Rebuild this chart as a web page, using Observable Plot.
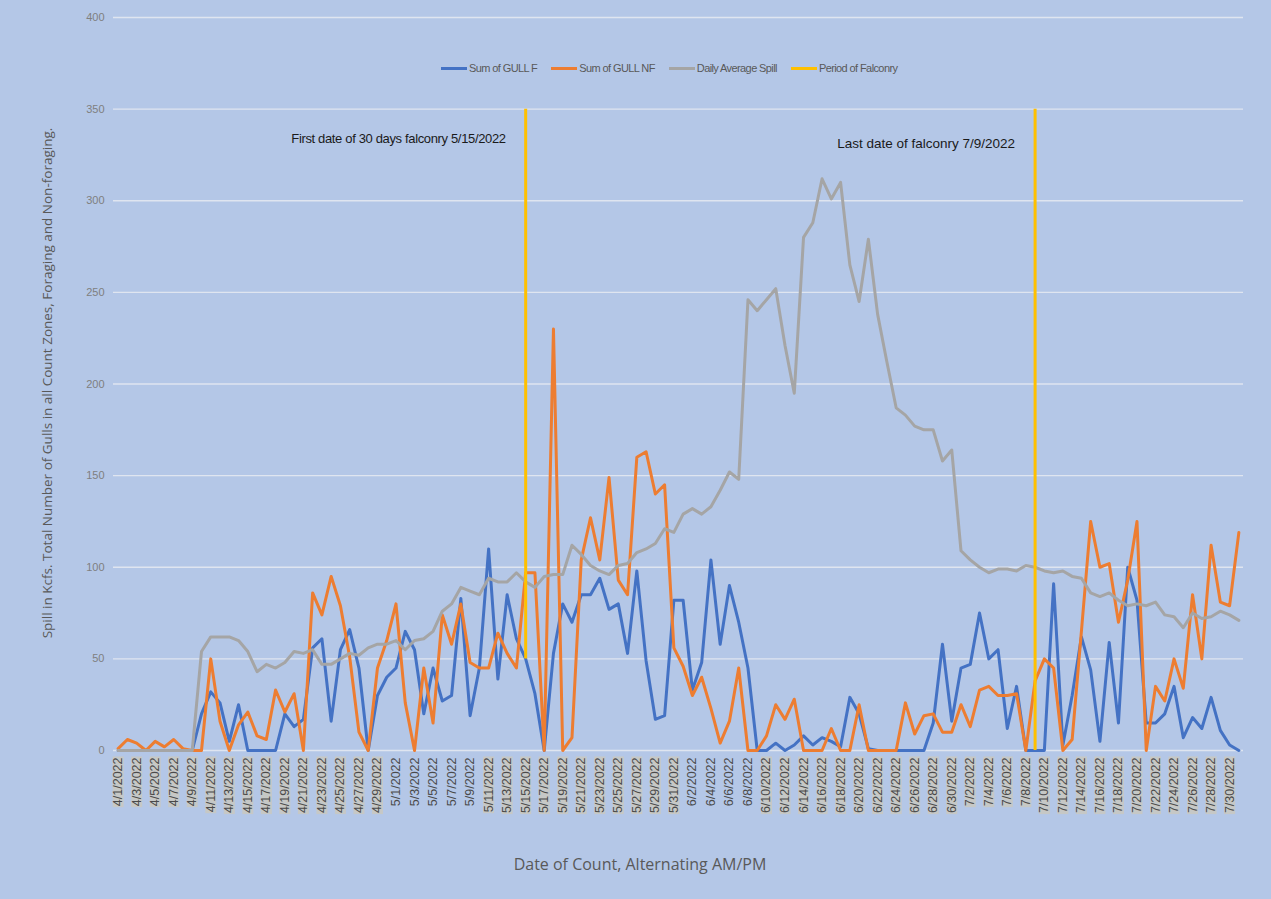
<!DOCTYPE html>
<html>
<head>
<meta charset="utf-8">
<script src="https://cdn.jsdelivr.net/npm/d3@7"></script>
<script src="https://cdn.jsdelivr.net/npm/@observablehq/plot@0.6"></script>
<style>
  html, body { margin: 0; padding: 0; background: #b4c7e7; }
  #wrap { position: relative; width: 1271px; height: 899px; background: #b4c7e7; overflow: hidden; }
  #legend { position: absolute; top: 62px; left: 441px; display: flex; gap: 14px; align-items: center;
            font-family: "Liberation Sans", Arial, sans-serif; font-size: 11px; letter-spacing: -0.6px; color: #595959; }
  #legend .item { display: flex; align-items: center; gap: 2px; }
  #legend .sw { width: 26px; height: 3px; }
  #ytitle { position: absolute; left: 47px; top: 383px; transform: translate(-50%, -50%) rotate(-90deg); white-space: nowrap;
            font-family: "Open Sans", sans-serif; font-size: 13.5px; color: #595959; }
  #xtitle { position: absolute; left: 640px; top: 864px; transform: translate(-50%, -50%); white-space: nowrap;
            font-family: "Open Sans", sans-serif; font-size: 16px; color: #595959; }
</style>
</head>
<body>
<div id="wrap">
  <div id="chart"></div>
  <div id="legend"></div>
  <div id="ytitle"></div>
  <div id="xtitle"></div>
</div>
<script>
// ---- categories (one count per date, alternating AM/PM) ----
const dates = [
  "4/1/2022","4/2/2022","4/3/2022","4/4/2022","4/5/2022","4/6/2022","4/7/2022","4/8/2022","4/9/2022","4/10/2022",
  "4/11/2022","4/12/2022","4/13/2022","4/14/2022","4/15/2022","4/16/2022","4/17/2022","4/18/2022","4/19/2022","4/20/2022",
  "4/21/2022","4/22/2022","4/23/2022","4/24/2022","4/25/2022","4/26/2022","4/27/2022","4/28/2022","4/29/2022","4/30/2022",
  "5/1/2022","5/2/2022","5/3/2022","5/4/2022","5/5/2022","5/6/2022","5/7/2022","5/8/2022","5/9/2022","5/10/2022",
  "5/11/2022","5/12/2022","5/13/2022","5/14/2022","5/15/2022","5/16/2022","5/17/2022","5/18/2022","5/19/2022","5/20/2022",
  "5/21/2022","5/22/2022","5/23/2022","5/24/2022","5/25/2022","5/26/2022","5/27/2022","5/28/2022","5/29/2022","5/30/2022",
  "5/31/2022","6/1/2022","6/2/2022","6/3/2022","6/4/2022","6/5/2022","6/6/2022","6/7/2022","6/8/2022","6/9/2022",
  "6/10/2022","6/11/2022","6/12/2022","6/13/2022","6/14/2022","6/15/2022","6/16/2022","6/17/2022","6/18/2022","6/19/2022",
  "6/20/2022","6/21/2022","6/22/2022","6/23/2022","6/24/2022","6/25/2022","6/26/2022","6/27/2022","6/28/2022","6/29/2022",
  "6/30/2022","7/1/2022","7/2/2022","7/3/2022","7/4/2022","7/5/2022","7/6/2022","7/7/2022","7/8/2022","7/9/2022",
  "7/10/2022","7/11/2022","7/12/2022","7/13/2022","7/14/2022","7/15/2022","7/16/2022","7/17/2022","7/18/2022","7/19/2022",
  "7/20/2022","7/21/2022","7/22/2022","7/23/2022","7/24/2022","7/25/2022","7/26/2022","7/27/2022","7/28/2022","7/29/2022",
  "7/30/2022","7/31/2022"
];

// ---- series ----
const gullF = [
  0,0,0,0,0,0,0,0,0,20,
  32,26,5,25,0,0,0,0,20,13,
  17,56,61,16,55,66,45,0,30,40,
  45,65,55,20,45,27,30,83,19,45,
  110,39,85,61,50,31,0,53,80,70,
  85,85,94,77,80,53,98,49,17,19,
  82,82,33,48,104,58,90,70,45,0,
  0,4,0,3,8,3,7,5,2,29,
  20,1,0,0,0,0,0,0,15,58,
  16,45,47,75,50,55,12,35,0,0,
  0,91,3,30,62,44,5,59,15,100,
  82,15,15,20,35,7,18,12,29,11,
  3,0
];
const gullNF = [
  1,6,4,0,5,2,6,1,0,0,
  50,16,0,14,21,8,6,33,21,31,
  0,86,74,95,79,51,10,0,45,60,
  80,26,0,45,15,74,58,80,48,45,
  45,64,53,45,97,97,0,230,0,7,
  104,127,104,149,93,85,160,163,140,145,
  56,46,30,40,23,4,16,45,0,0,
  8,25,17,28,0,0,0,12,0,0,
  25,0,0,0,0,26,9,19,20,10,
  10,25,13,33,35,30,30,31,0,38,
  50,45,0,6,65,125,100,102,70,93,
  125,0,35,27,50,34,85,50,112,81,
  79,119
];
const dailySpill = [
  0,0,0,0,0,0,0,0,0,54,
  62,62,62,60,54,43,47,45,48,54,
  53,55,47,47,50,53,52,56,58,58,
  60,55,60,61,65,76,80,89,87,85,
  94,92,92,97,92,89,95,96,96,112,
  107,101,98,96,101,102,108,110,113,121,
  119,129,132,129,133,142,152,148,246,240,
  246,252,221,195,280,288,312,301,310,265,
  245,279,238,212,187,183,177,175,175,158,
  164,109,104,100,97,99,99,98,101,100,
  98,97,98,95,94,86,84,86,82,79,
  80,79,81,74,73,67,75,72,73,76,
  74,71
];

// ---- period of falconry (vertical markers) ----
const falconryDates = ["5/15/2022", "7/9/2022"];
const falconryLow = [50, 0];
const falconryHigh = [350, 350];

// ---- annotations ----
const noteTexts = ["First date of 30 days falconry 5/15/2022", "Last date of falconry 7/9/2022"];
const noteDates = ["5/15/2022", "7/9/2022"];
const noteValues = [334, 331];

// ---- ticks ----
const yTicks = [0, 50, 100, 150, 200, 250, 300, 350, 400];
const xTickLabels = dates.filter((d, i) => i % 2 === 0);
const plainTickLabels = ["5/1/2022","5/3/2022","5/5/2022","5/7/2022","5/9/2022","6/2/2022","6/4/2022","6/6/2022","6/8/2022"];

// ---- legend / titles ----
const seriesNames = ["Sum of GULL F", "Sum of GULL NF", "Daily Average Spill", "Period of Falconry"];
const seriesColors = ["#4472c4", "#ed7d31", "#a5a5a5", "#ffc000"];
const yTitle = "Spill in Kcfs. Total Number of Gulls in all Count Zones, Foraging and Non-foraging.";
const xTitle = "Date of Count, Alternating AM/PM";

const xOf = (d, i) => dates[i];
const noteFontSizes = [13, 13.5];
const noteSpacing = ["-0.35px", "0px"];

const chart = Plot.plot({
  width: 1271,
  height: 899,
  marginLeft: 113,
  marginRight: 28,
  marginTop: 17,
  marginBottom: 149,
  style: { background: "transparent", overflow: "visible", fontFamily: "'Liberation Sans', Arial, sans-serif" },
  x: { type: "point", domain: dates, padding: 0.5 },
  y: { domain: [0, 400] },
  marks: [
    Plot.gridY(yTicks, { stroke: "#dfe5f0", strokeOpacity: 1, strokeWidth: 1.3 }),
    Plot.axisY(yTicks, { tickSize: 0, tickPadding: 9, fontSize: 11, color: "#7f7f7f", label: null }),
    Plot.axisX(xTickLabels, { tickSize: 0, tickPadding: 7, tickRotate: -90, fontSize: 12.5, color: "#4a4a4a", label: null }),
    Plot.lineY(gullF, { x: xOf, y: d => d, stroke: seriesColors[0], strokeWidth: 3, strokeLinejoin: "round" }),
    Plot.lineY(gullNF, { x: xOf, y: d => d, stroke: seriesColors[1], strokeWidth: 3, strokeLinejoin: "round" }),
    Plot.lineY(dailySpill, { x: xOf, y: d => d, stroke: seriesColors[2], strokeWidth: 3, strokeLinejoin: "round" }),
    Plot.ruleX(falconryDates, { x: d => d, y1: (d, i) => falconryLow[i], y2: (d, i) => falconryHigh[i], stroke: seriesColors[3], strokeWidth: 3 }),
    Plot.text(noteTexts, { x: (d, i) => noteDates[i], y: (d, i) => noteValues[i], text: d => d, textAnchor: "end", dx: -20,
      fontSize: 13, fill: "#1a1a1a", fontFamily: "'Liberation Sans', Arial, sans-serif" })
  ]
});
document.getElementById("chart").appendChild(chart);

// annotation lettering
chart.querySelectorAll('g[aria-label="text"] text').forEach((t, i) => {
  t.style.letterSpacing = noteSpacing[i] || "0px";
  t.style.fontSize = (noteFontSizes[i] || 13) + "px";
});

// gray highlight boxes behind most x tick labels
chart.querySelectorAll('g[aria-label="x-axis tick label"] text').forEach(t => {
  if (plainTickLabels.includes(t.textContent)) return;
  const b = t.getBBox();
  const r = document.createElementNS("http://www.w3.org/2000/svg", "rect");
  r.setAttribute("x", b.x - 1);
  r.setAttribute("y", b.y + 1.5);
  r.setAttribute("width", b.width + 2);
  r.setAttribute("height", Math.max(0, b.height - 3));
  r.setAttribute("fill", "#c6c8c6");
  const tr = t.getAttribute("transform");
  if (tr) r.setAttribute("transform", tr);
  t.parentNode.insertBefore(r, t);
});

// legend
const legend = document.getElementById("legend");
seriesNames.forEach((name, i) => {
  const item = document.createElement("div");
  item.className = "item";
  const sw = document.createElement("span");
  sw.className = "sw";
  sw.style.background = seriesColors[i];
  const lab = document.createElement("span");
  lab.textContent = name;
  item.appendChild(sw);
  item.appendChild(lab);
  legend.appendChild(item);
});
document.getElementById("ytitle").textContent = yTitle;
document.getElementById("xtitle").textContent = xTitle;
</script>
</body>
</html>
